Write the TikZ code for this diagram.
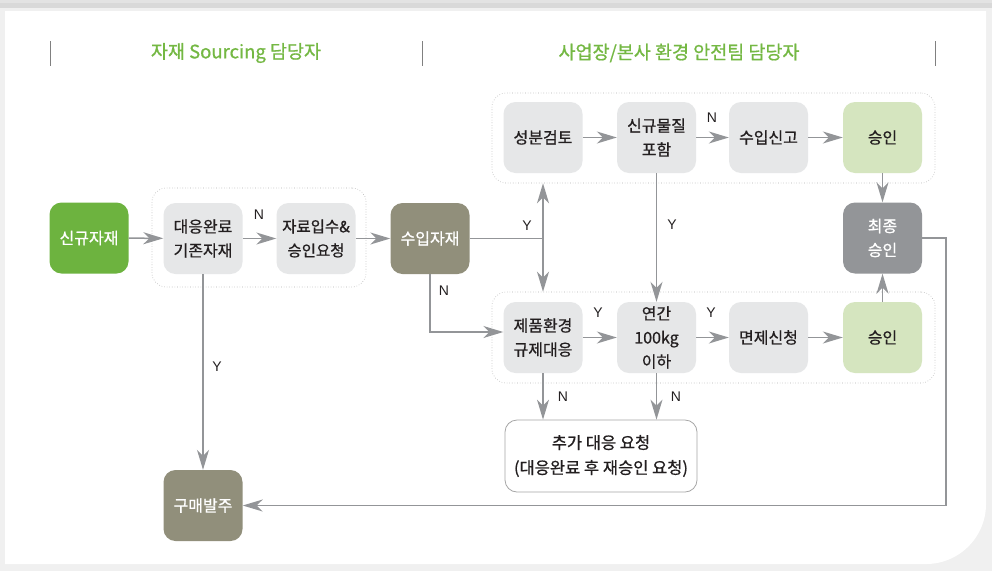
\documentclass[tikz,border=0pt]{standalone}
\usepackage{fontspec}
\setmainfont{Noto Sans CJK KR}
\newfontfamily\medfont[FakeBold=0.8]{Noto Sans CJK KR}
\newfontfamily\labfont{Liberation Sans}
\usetikzlibrary{arrows.meta}
\definecolor{cgreen}{HTML}{6DB33F}
\definecolor{ctitle}{HTML}{74B843}
\definecolor{clgray}{HTML}{E6E7E8}
\definecolor{clgreen}{HTML}{D5E5BF}
\definecolor{colive}{HTML}{918F7B}
\definecolor{cdgray}{HTML}{939598}
\definecolor{cline}{HTML}{939598}
\definecolor{ctext}{HTML}{231F20}
\tikzset{
  box/.style={rounded corners=12pt, minimum width=79pt, minimum height=71pt, inner sep=0pt, align=center, font=\medfont\fontsize{16}{24}\selectfont, text=ctext},
  lbox/.style={box, fill=clgray},
  gbox/.style={box, fill=clgreen},
  obox/.style={box, fill=colive, text=white},
  grp/.style={draw=gray!60, dotted, line width=0.6pt, rounded corners=14pt, inner sep=0pt},
  arr/.style={draw=cline, line width=1.5pt, -{Stealth[length=20pt,width=12pt,inset=6pt]}},
  ln/.style={draw=cline, line width=1.5pt},
  lab/.style={font=\labfont\fontsize{14}{16}\selectfont, text=ctext, inner sep=0pt},
  ttl/.style={font=\medfont\fontsize{18.5}{20}\selectfont, text=ctitle, inner sep=0pt},
  sep/.style={draw=gray, line width=0.8pt}
}
\begin{document}
\begin{tikzpicture}[x=1pt,y=-1pt]
\useasboundingbox (0,0) rectangle (992,571);
% background card
\fill[gray!22] (0,0) rectangle (992,571);
\fill[gray!30] (0,3) rectangle (992,8);
\fill[gray!12] (0,8) rectangle (992,571);
\fill[white] (5,11) -- (986,11) [rounded corners=60pt] -- (986,564) [sharp corners] -- (5,564) -- cycle;
% header
\draw[sep] (50,41) -- (50,66);
\draw[sep] (422,41) -- (422,66);
\draw[sep] (935,41) -- (935,66);
\node[ttl] (t1) at (236,53) {자재 Sourcing 담당자};
\node[ttl] (t2) at (679,53) {사업장/본사 환경 안전팀 담당자};
% groups
\node[grp, minimum width=214pt, minimum height=99pt] (lg) at (259,237.5) {};
\node[grp, minimum width=443pt, minimum height=90pt] (ug) at (713.5,138) {};
\node[grp, minimum width=443pt, minimum height=91pt] (dg) at (713.5,337.5) {};
% boxes
\node[box, fill=cgreen, text=white] (ns) at (89,238) {신규자재};
\node[lbox] (dw) at (203,238.5) {대응완료\\기존자재};
\node[lbox, font=\medfont\fontsize{15.5}{24}\selectfont] (jr) at (316,238.5) {자료입수\&\\승인요청};
\node[obox] (si) at (430,238.5) {수입자재};
\node[lbox] (sb) at (543,137.5) {성분검토};
\node[lbox] (sg) at (656.5,137.5) {신규물질\\포함};
\node[lbox] (sn) at (768.5,137.5) {수입신고};
\node[gbox] (a1) at (882.5,137.5) {승인};
\node[box, fill=cdgray, text=white] (fa) at (882.5,238) {최종\\승인};
\node[lbox] (jh) at (543,337.5) {제품환경\\규제대응};
\node[lbox] (yg) at (656.5,337.5) {연간\\100kg\\이하};
\node[lbox] (mj) at (768.5,337.5) {면제신청};
\node[gbox] (a2) at (882.5,337.5) {승인};
\node[box, draw=gray!70, line width=0.8pt, fill=white, minimum width=192pt, minimum height=72pt, font=\medfont\fontsize{16.5}{25}\selectfont] (ad) at (601,456) {추가 대응 요청\\(대응완료 후 재승인 요청)};
\node[obox] (po) at (203,505.5) {구매발주};
% connectors
\draw[arr] (ns) -- (dw);
\draw[arr] (dw) -- (jr);
\draw[arr] (jr) -- (si);
\draw[ln] (si.east) -- (sb.south |- si.east) coordinate (j);
\draw[arr] (j) -- (sb.south |- ug.south);
\draw[arr] (j) -- (jh.north |- dg.north);
\draw[arr] (si.south) |- ([yshift=5.5pt]jh.west);
\draw[arr] (sb) -- (sg);
\draw[arr] (sg) -- (sn);
\draw[arr] (sn) -- (a1);
\draw[arr] (sg.south) -- (yg.north);
\draw[arr] (a1.south) -- (fa.north);
\draw[arr] (a2.north) -- (fa.south);
\coordinate (rx) at (946,0);
\draw[arr] (fa.east) -- (fa.east -| rx) |- (po.east);
\draw[arr] (jh) -- (yg);
\draw[arr] (yg) -- (mj);
\draw[arr] (mj) -- (a2);
\draw[arr] (jh.south) -- (jh.south |- ad.north);
\draw[arr] (yg.south) -- (yg.south |- ad.north);
\draw[arr] (dw.south) -- (po.north);
% labels
\node[lab] (l1) at (259,215) {N};
\node[lab] (l2) at (527,226) {Y};
\node[lab] (l3) at (444,291) {N};
\node[lab] (l4) at (712,118) {N};
\node[lab] (l5) at (672,225) {Y};
\node[lab] (l6) at (598,313) {Y};
\node[lab] (l7) at (711,313) {Y};
\node[lab] (l8) at (563,397) {N};
\node[lab] (l9) at (676,397) {N};
\node[lab] (l10) at (217,367) {Y};
\end{tikzpicture}
\end{document}
